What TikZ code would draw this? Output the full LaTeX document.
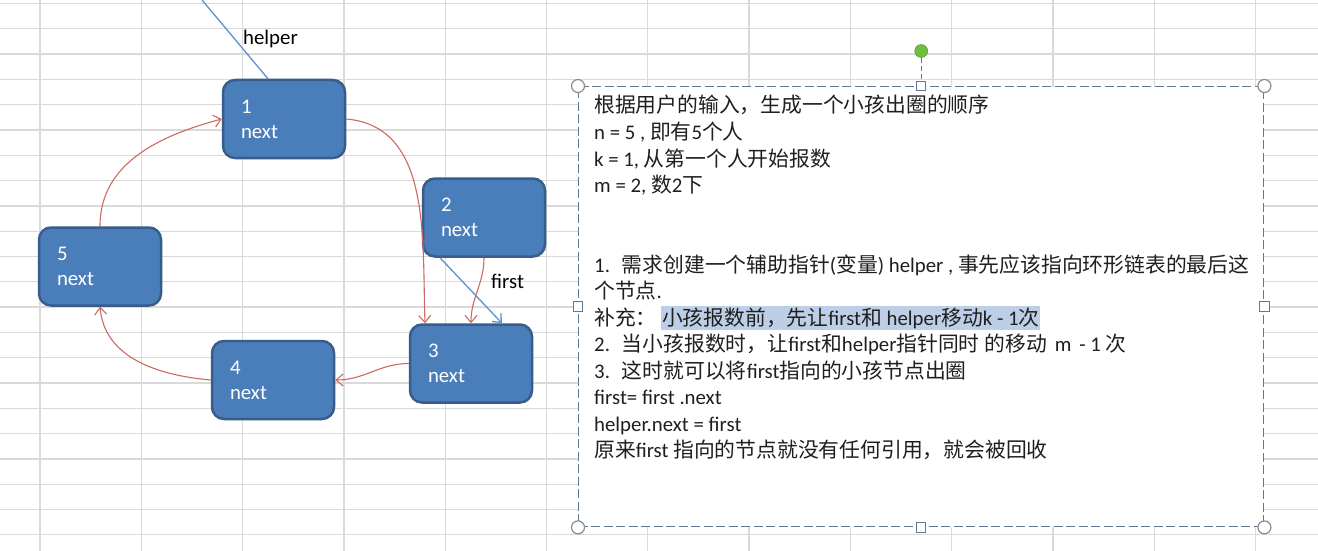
\documentclass[tikz,border=0pt]{standalone}
\usepackage{fontspec}
\setmainfont{Carlito}
\newfontfamily\cjk{Noto Sans CJK SC}
\usetikzlibrary{arrows.meta}

\definecolor{nodefill}{RGB}{74,126,187}
\definecolor{nodeedge}{RGB}{56,93,138}
\definecolor{linkred}{RGB}{205,105,95}
\definecolor{ptrblue}{RGB}{95,145,205}
\definecolor{gridgray}{RGB}{218,218,218}
\definecolor{frameblue}{RGB}{95,120,150}
\definecolor{hilite}{RGB}{189,207,230}
\definecolor{knobgreen}{RGB}{112,190,62}
\definecolor{handlegray}{RGB}{140,140,140}

\newcommand{\zh}[1]{{\cjk #1}}

\tikzset{
  gridline/.style={draw=gridgray, line width=1.3pt},
  cell/.style={rectangle, rounded corners=12pt, fill=nodefill, draw=nodeedge, line width=2.5pt,
    text=white, text width=86pt, inner xsep=18pt, minimum height=78pt, align=left,
    font=\fontsize{20.8}{25}\selectfont},
  link/.style={draw=linkred, line width=1.1pt, -{Straight Barb[length=7pt,width=12pt]}},
  ptr/.style={draw=ptrblue, line width=1.3pt},
  lbl/.style={anchor=base west, inner sep=0pt, font=\fontsize{20.8}{25}\selectfont},
  txt/.style={anchor=base west, inner sep=0pt, text=black!88, font=\fontsize{20.8}{26.5}\selectfont},
  tbox/.style={rectangle, fill=white, draw=frameblue, dash pattern=on 9pt off 3.5pt, line width=1.4pt,
    minimum width=685pt, minimum height=440pt, inner sep=0pt},
  hcirc/.style={circle, fill=white, draw=handlegray, line width=1.2pt, minimum size=13pt, inner sep=0pt},
  hsq/.style={rectangle, fill=white, draw=frameblue, line width=1pt, minimum size=9.5pt, inner sep=0pt},
  knob/.style={circle, fill=knobgreen, draw=knobgreen!70!black, minimum size=13pt, inner sep=0pt}
}

\begin{document}
\begin{tikzpicture}[x=1pt, y=1pt]
\useasboundingbox (0,0) rectangle (1318,-551);
\fill[white] (0,0) rectangle (1318,-551);

% griglia del foglio
\foreach \gx in {0,...,12}
  \draw[gridline] ({40+101.3*\gx},0) -- ({40+101.3*\gx},-551);
\foreach \gy in {0,...,21}
  \draw[gridline] (0,{-3.5-25.3*\gy}) -- (1318,{-3.5-25.3*\gy});

% casella di testo con maniglie
\node[tbox, anchor=north west] (tb) at (578,-86) {};
\foreach \a/\nm in {north west/nw, north east/ne, south west/sw, south east/se}
  \node[hcirc] (h\nm) at (tb.\a) {};
\foreach \a/\nm in {north/n, south/s, west/w, east/e}
  \node[hsq] (q\nm) at (tb.\a) {};
\node[knob] (rot) at ([yshift=35pt]tb.north) {};
\draw[frameblue, dash pattern=on 5pt off 3pt, line width=1.2pt] (rot) -- (qn);

% testo
\node[txt] (l1) at (594,-113) {\zh{根据用户的输入，生成一个小孩出圈的顺序}};
\node[txt] (l2) at (594,-139.5) {n = 5 , \zh{即有}5\zh{个人}};
\node[txt] (l3) at (594,-166) {k = 1, \zh{从第一个人开始报数}};
\node[txt] (l4) at (594,-192.5) {m = 2, \zh{数}2\zh{下}};
\node[txt] (l5) at (594,-272) {1.\hspace{12pt}\zh{需求创建一个辅助指针}(\zh{变量}) helper , \zh{事先应该指向环形链表的最后这}};
\node[txt] (l6) at (594,-298.5) {\zh{个节点}.};
\node[txt] (l7) at (594,-325) {\zh{补充：}};
\node[txt, fill=hilite, inner xsep=1pt, text height=19pt, text depth=5pt] (l7h) at ([xshift=4pt]l7.base east)
  {\zh{小孩报数前，先让}first\zh{和} helper\zh{移动}k - 1\zh{次}};
\node[txt] (l8) at (594,-351.5) {2.\hspace{12pt}\zh{当小孩报数时，让}first\zh{和}helper\zh{指针同时 的移动}\hspace{8pt}m\hspace{8pt}- 1 \zh{次}};
\node[txt] (l9) at (594,-378) {3.\hspace{12pt}\zh{这时就可以将}first\zh{指向的小孩节点出圈}};
\node[txt] (l10) at (594,-404.5) {first= first .next};
\node[txt] (l11) at (594,-431) {helper.next = first};
\node[txt] (l12) at (594,-457.5) {\zh{原来}first \zh{指向的节点就没有任何引用，就会被回收}};

% nodi della lista circolare
\node[cell] (n1) at (284,-119) {1\\next};
\node[cell] (n2) at (484,-217.5) {2\\next};
\node[cell] (n3) at (471,-363.5) {3\\next};
\node[cell] (n4) at (273,-380) {4\\next};
\node[cell] (n5) at (100,-266.5) {5\\next};

% collegamenti next
\draw[link] (n1.east) to[out=-5, in=92] ([xshift=-46pt]n3.north);
\draw[link] (n2.south) to[out=-90, in=90] (n3.north);
\draw[link] (n3.west) to[out=180, in=0] (n4.east);
\draw[link] (n4.west) to[out=175, in=-85] (n5.south);
\draw[link] (n5.north) to[out=90, in=195] (n1.west);

% puntatori helper e first
\coordinate (hp) at (202,0);
\draw[ptr] (hp) -- ([xshift=-16pt]n1.north);
\node[lbl] (hl) at (243,-45) {helper};
\draw[ptr, -{Straight Barb[length=7pt,width=12pt]}] ([xshift=-44pt]n2.south) -- ([xshift=31pt]n3.north);
\node[lbl] (fl) at (491,-288) {first};
\end{tikzpicture}
\end{document}
